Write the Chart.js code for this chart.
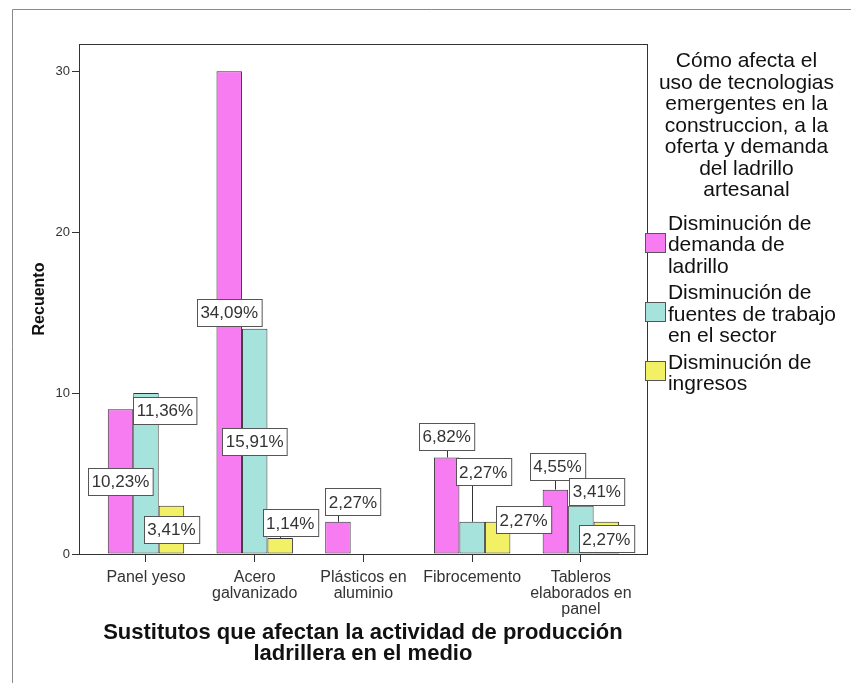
<!DOCTYPE html>
<html>
<head>
<meta charset="utf-8">
<script src="https://cdn.jsdelivr.net/npm/chart.js@4.4.1/dist/chart.umd.min.js"></script>
<style>
  html, body { margin: 0; padding: 0; background: #fff; }
  #wrap { width: 851px; height: 683px; }
</style>
</head>
<body>
<div id="wrap"><canvas id="grafico"></canvas></div>
<script>
// Sustitutos (eje X) y recuento por efecto
const categorias = [
    ['Panel yeso'],
    ['Acero', 'galvanizado'],
    ['Plásticos en', 'aluminio'],
    ['Fibrocemento'],
    ['Tableros', 'elaborados en', 'panel']
];
const demandaLadrillo = [9, 30, 2, 6, 4];
const fuentesTrabajo = [10, 14, 0, 2, 3];
const ingresos = [3, 1, 0, 2, 2];
const ticksY = [0, 10, 20, 30];

const nombresSerie = [
    ['Disminución de', 'demanda de', 'ladrillo'],
    ['Disminución de', 'fuentes de trabajo', 'en el sector'],
    ['Disminución de', 'ingresos']
];
const tituloLeyenda = [
    'Cómo afecta el',
    'uso de tecnologias',
    'emergentes en la',
    'construccion, a la',
    'oferta y demanda',
    'del ladrillo',
    'artesanal'
];
const colores = ['#f77cf2', '#a6e3dc', '#f2f064'];

// desplazamiento (dx, dy) de cada etiqueta respecto al tope de su barra
const posEtiquetas = [
    [[0, 72], [0, 241], [15, -20], [0, -21], [2, -23]],
    [[19, 17], [0, 113], [0, 0], [11, -50], [16, -14]],
    [[0, 24], [10, -15], [0, 0], [26, -2], [0, 17]]
];

const FUENTE = "'Liberation Sans', Arial, Helvetica, sans-serif";
const series = [demandaLadrillo, fuentesTrabajo, ingresos];
const total = series.flat().reduce((a, b) => a + b, 0);

function formatoPct(v) {
    return (v / total * 100).toFixed(2).replace('.', ',') + '%';
}

// marco del gráfico y del área de trazado
const marcos = {
    id: 'marcos',
    beforeDraw(chart) {
        const ctx = chart.ctx;
        ctx.save();
        ctx.strokeStyle = '#8a8a8a';
        ctx.lineWidth = 1;
        ctx.beginPath();
        ctx.moveTo(12.5, 683);
        ctx.lineTo(12.5, 9.5);
        ctx.lineTo(851, 9.5);
        ctx.stroke();
        ctx.restore();
    },
    afterDatasetsDraw(chart) {
        const a = chart.chartArea;
        const ctx = chart.ctx;
        ctx.save();
        ctx.strokeStyle = '#333';
        ctx.lineWidth = 1;
        ctx.strokeRect(Math.round(a.left) + 0.5, Math.round(a.top) + 0.5,
            Math.round(a.right - a.left), Math.round(a.bottom - a.top));
        ctx.restore();
    }
};

// etiquetas de porcentaje con recuadro
const etiquetas = {
    id: 'etiquetas',
    afterDatasetsDraw(chart) {
        const ctx = chart.ctx;
        ctx.save();
        ctx.font = '17px ' + FUENTE;
        ctx.textAlign = 'center';
        ctx.textBaseline = 'middle';
        chart.data.datasets.forEach((ds, i) => {
            const meta = chart.getDatasetMeta(i);
            meta.data.forEach((bar, j) => {
                const v = ds.data[j].y;
                if (!v) return;
                const txt = formatoPct(v);
                const [dx, dy] = posEtiquetas[i][j];
                const cx = bar.x + dx;
                const cy = bar.y + dy;
                const w = ctx.measureText(txt).width + 7;
                const h = 27;
                const l = Math.round(cx - w / 2) + 0.5;
                const t = Math.round(cy - h / 2) + 0.5;
                if (t + h < bar.y) {
                    const lx = Math.min(Math.max(bar.x, l + 4), l + w - 4);
                    ctx.strokeStyle = '#333';
                    ctx.lineWidth = 1;
                    ctx.beginPath();
                    ctx.moveTo(Math.round(lx) + 0.5, t + h);
                    ctx.lineTo(Math.round(bar.x) + 0.5, bar.y);
                    ctx.stroke();
                }
                ctx.fillStyle = '#fff';
                ctx.fillRect(l, t, w, h);
                ctx.strokeStyle = '#555';
                ctx.lineWidth = 1;
                ctx.strokeRect(l, t, w, h);
                ctx.fillStyle = '#333';
                ctx.fillText(txt, cx, cy + 1);
            });
        });
        ctx.restore();
    }
};

// cuadros de color de la leyenda, centrados en cada elemento
const cuadrosLeyenda = {
    id: 'cuadrosLeyenda',
    afterDraw(chart) {
        const lg = chart.legend;
        if (!lg || !lg.legendHitBoxes) return;
        const ctx = chart.ctx;
        ctx.save();
        lg.legendHitBoxes.forEach((hb, i) => {
            const y = Math.round(hb.top + hb.height / 2 - 13) + 0.5;
            const x = Math.round(chart.chartArea.right) - 1.5;
            ctx.fillStyle = colores[i];
            ctx.fillRect(x, y, 20, 19);
            ctx.strokeStyle = '#555';
            ctx.lineWidth = 1;
            ctx.strokeRect(x, y, 20, 19);
        });
        ctx.restore();
    }
};

const datasets = series.map((vals, i) => ({
    label: nombresSerie[i].join(' '),
    data: vals.map((v, j) => ({ x: j, y: v })),
    backgroundColor: colores[i],
    borderColor: '#333',
    borderWidth: 1,
    borderSkipped: false,
    categoryPercentage: 0.703,
    barPercentage: 1
}));

new Chart(document.getElementById('grafico'), {
    type: 'bar',
    data: { datasets: datasets },
    options: {
        responsive: true,
        maintainAspectRatio: false,
        animation: false,
        events: [],
        layout: { padding: { top: 44, right: 5, bottom: 0, left: 0 } },
        plugins: {
            tooltip: { enabled: false },
            legend: {
                position: 'right',
                align: 'start',
                title: {
                    display: true,
                    text: tituloLeyenda,
                    position: 'center',
                    color: '#111',
                    font: { family: FUENTE, size: 21, lineHeight: '21.5px' },
                    padding: { top: 7, bottom: 136 }
                },
                labels: {
                    boxWidth: 5.5,
                    padding: 5,
                    color: '#111',
                    font: { family: FUENTE, size: 21, lineHeight: '21.5px' },
                    generateLabels(chart) {
                        return chart.data.datasets.map((ds, i) => ({
                            text: nombresSerie[i],
                            fillStyle: 'rgba(0,0,0,0)',
                            strokeStyle: 'rgba(0,0,0,0)',
                            lineWidth: 0,
                            hidden: false,
                            datasetIndex: i
                        }));
                    }
                }
            }
        },
        scales: {
            x: {
                type: 'linear',
                offset: false,
                min: -0.616,
                max: 4.607,
                afterBuildTicks(scale) {
                    scale.ticks = categorias.map((c, i) => ({ value: i }));
                },
                afterFit(scale) { scale.height = 129; },
                ticks: {
                    color: '#333',
                    font: { family: FUENTE, size: 16, lineHeight: '16px' },
                    padding: 8,
                    maxRotation: 0,
                    autoSkip: false,
                    callback: (v) => categorias[v]
                },
                grid: { offset: false, drawOnChartArea: false, drawTicks: true, tickLength: 8, color: '#333' },
                border: { display: true, color: '#333' },
                title: {
                    display: true,
                    text: ['Sustitutos que afectan la actividad de producción', 'ladrillera en el medio'],
                    color: '#111',
                    font: { family: FUENTE, size: 22, weight: 'bold', lineHeight: '21.5px' },
                    padding: { top: 0, bottom: 18 }
                }
            },
            y: {
                min: 0,
                max: 31.7,
                afterBuildTicks(scale) {
                    scale.ticks = ticksY.map(v => ({ value: v }));
                },
                afterFit(scale) { scale.width = 79; },
                ticks: {
                    color: '#333',
                    font: { family: FUENTE, size: 13 },
                    padding: 2
                },
                grid: { drawOnChartArea: false, drawTicks: true, tickLength: 7, color: '#333' },
                border: { display: true, color: '#333' },
                title: {
                    display: true,
                    text: 'Recuento',
                    color: '#111',
                    font: { family: FUENTE, size: 16, weight: 'bold', lineHeight: 1.2 },
                    padding: { top: 30, bottom: 0 }
                }
            }
        }
    },
    plugins: [marcos, etiquetas, cuadrosLeyenda]
});
</script>
</body>
</html>
